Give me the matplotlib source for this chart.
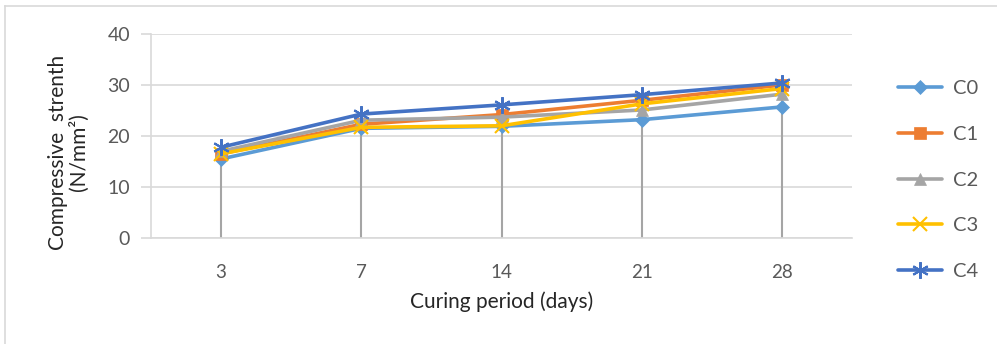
import matplotlib
matplotlib.use("Agg")
import matplotlib.pyplot as plt
from matplotlib.lines import Line2D

# ---- data ----
categories = ["3", "7", "14", "21", "28"]
c0 = [15.5, 21.5, 21.9, 23.2, 25.7]
c1 = [16.5, 22.3, 24.2, 27.0, 30.0]
c2 = [17.0, 23.1, 23.7, 25.1, 28.2]
c3 = [16.5, 21.7, 22.0, 26.3, 29.3]
c4 = [17.8, 24.3, 26.1, 28.1, 30.4]
series_names = ["C0", "C1", "C2", "C3", "C4"]
y_ticks = [0, 10, 20, 30, 40]

plt.rcParams['font.family'] = ['Lato', 'DejaVu Sans']
txt = "#595959"

fig = plt.figure(figsize=(9.97, 3.44), dpi=100)
ax = fig.add_axes([151/997, 1-238/344, 701/997, 204/344])

x = list(range(len(categories)))
series = [c0, c1, c2, c3, c4]
colors = ["#5B9BD5", "#ED7D31", "#A5A5A5", "#FFC000", "#4472C4"]
markers = ["D", "s", "^", "x", (6, 2, 0)]
msizes = [7, 8, 8, 10, 12]

# drop lines
tops = [max(v) for v in zip(*series)]
ax.vlines(x, 0, tops, color="#A5A5A5", lw=1.5, zorder=1)

handles = []
for vals, col, mk, ms, name in zip(series, colors, markers, msizes, series_names):
    h, = ax.plot(x, vals, color=col, lw=2.6, marker=mk, markersize=ms,
                 markeredgewidth=1.5 if mk in ("x",) or isinstance(mk, tuple) else 0.5,
                 markeredgecolor=col, markerfacecolor=col, label=name, zorder=3,
                 solid_capstyle="round")
    handles.append(h)

ax.set_xlim(-0.5, len(categories) - 0.5)
ax.set_ylim(0, 40)
ax.set_yticks(y_ticks)
ax.set_xticks(x)
ax.set_xticklabels(categories)
ax.yaxis.grid(True, color="#D9D9D9", lw=1.2, zorder=0)
ax.set_axisbelow(True)
for s in ["top", "right"]:
    ax.spines[s].set_visible(False)
ax.spines["left"].set_color("#D9D9D9")
ax.spines["bottom"].set_color("#D9D9D9")
ax.spines["left"].set_linewidth(1.2)
ax.spines["bottom"].set_linewidth(1.2)
ax.tick_params(axis="y", colors="#D9D9D9", labelcolor=txt, labelsize=14,
               length=7, width=1.2, pad=8)
ax.tick_params(axis="x", length=0, labelcolor=txt, labelsize=13.5, pad=19)

ax.set_xlabel("Curing period (days)", fontsize=15, color="#262626", labelpad=7)
fig.text(68/997, 1-152/344, "Compressive  strenth\n(N/mm²)", rotation=90,
         ha="center", va="center", fontsize=15, color="#262626",
         linespacing=1.05)

fig.legend(handles=handles, loc="upper left",
           bbox_to_anchor=(880/997, 1-62/344), frameon=False,
           fontsize=14.5, handlelength=2.2, labelspacing=1.42,
           handletextpad=0.5, labelcolor=txt)

# chart border (top and left edges visible)
fig.add_artist(Line2D([4.5/997, 1], [1-6/344, 1-6/344], color="#D9D9D9", lw=1.2,
                      transform=fig.transFigure))
fig.add_artist(Line2D([4.5/997, 4.5/997], [0, 1-6/344], color="#D9D9D9", lw=1.2,
                      transform=fig.transFigure))

fig.savefig("out.png", dpi=100)
